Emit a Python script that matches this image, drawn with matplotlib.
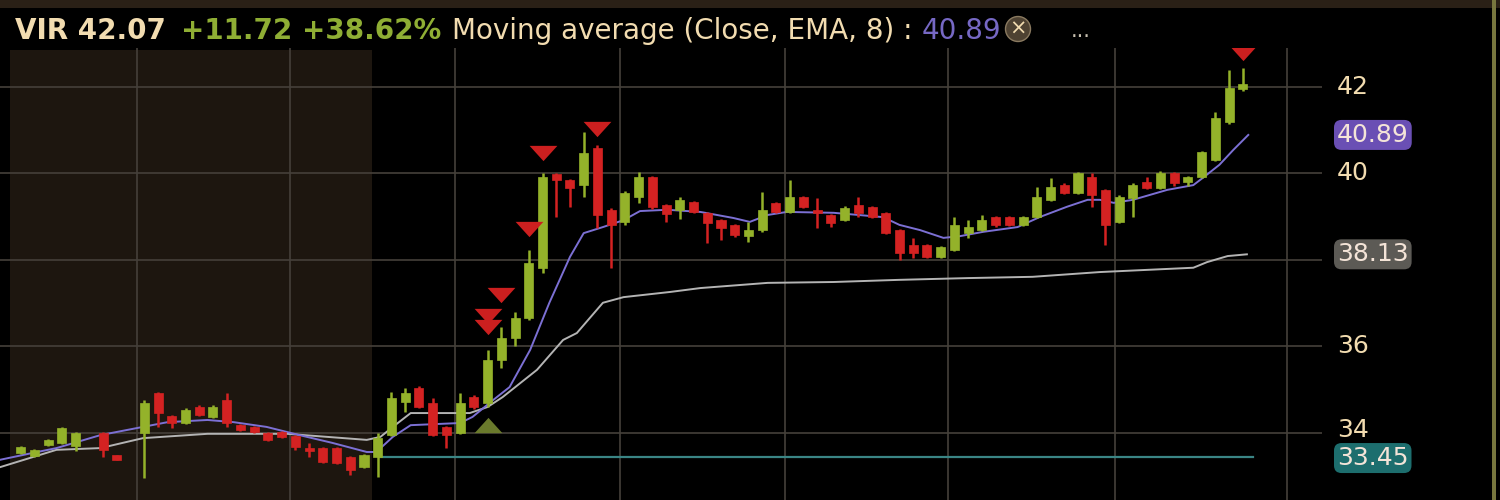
import matplotlib
matplotlib.use("Agg")
import matplotlib.pyplot as plt
import numpy as np
from matplotlib.transforms import blended_transform_factory
from matplotlib.patches import Rectangle

nan = np.nan

# one bar per slot, NaN where nothing was traded
opens = [nan, 33.54, 33.46, 33.72, 33.77, 33.70, nan, 34.00, 33.49, nan,
         34.00, 34.92, 34.39, 34.23, 34.60, 34.37, 34.76, 34.18, 34.14, 34.00,
         34.02, 33.93, 33.65, 33.65, 33.65, 33.45, 33.21, 33.45, 33.95, 34.72,
         35.04, 34.69, 34.14, 34.00, 34.83, 34.69, 35.69, 36.20, 36.66, 37.81,
         39.98, 39.85, 39.73, 40.59, 39.15, 38.88, 39.46, 39.92, 39.27, 39.16,
         39.34, 39.09, 38.93, 38.81, 38.55, 38.69, 39.32, 39.11, 39.46, 39.16,
         39.04, 38.93, 39.27, 39.23, 39.09, 38.69, 38.35, 38.35, 38.07, 38.23,
         38.62, 38.69, 38.99, 38.99, 38.81, 38.99, 39.39, 39.73, 39.55, 39.92,
         39.62, 38.88, 39.43, 39.80, 39.66, 40.01, 39.80, 39.92, 40.31, 41.19,
         41.95]
highs = [nan, 33.70, 33.62, 33.86, 34.14, 34.02, nan, 34.03, 33.50, nan,
         34.76, 34.95, 34.41, 34.58, 34.64, 34.64, 34.92, 34.20, 34.16, 34.02,
         34.04, 33.95, 33.77, 33.68, 33.68, 33.47, 33.52, 34.00, 34.95, 35.04,
         35.08, 34.80, 34.16, 34.92, 34.88, 35.92, 36.45, 36.80, 38.23, 40.01,
         40.02, 39.88, 40.96, 40.65, 39.20, 39.60, 40.03, 39.95, 39.30, 39.46,
         39.36, 39.11, 38.95, 38.83, 38.88, 39.57, 39.35, 39.85, 39.48, 39.43,
         39.06, 39.25, 39.46, 39.25, 39.11, 38.72, 38.51, 38.37, 38.32, 38.99,
         38.93, 39.04, 39.01, 39.01, 39.01, 39.69, 39.90, 39.78, 40.03, 40.01,
         39.65, 39.50, 39.78, 39.92, 40.05, 40.03, 39.94, 40.52, 41.42, 42.39,
         42.44]
lows = [nan, 33.52, 33.44, 33.70, 33.75, 33.58, nan, 33.45, 33.37, nan,
        32.96, 34.14, 34.12, 34.20, 34.40, 34.35, 34.14, 34.05, 34.00, 33.82,
        33.89, 33.61, 33.45, 33.30, 33.28, 33.03, 33.19, 32.98, 33.93, 34.49,
        34.58, 33.93, 33.65, 33.98, 34.55, 34.60, 35.50, 36.00, 36.60, 37.70,
        39.00, 39.23, 39.46, 38.74, 37.81, 38.80, 39.32, 39.18, 38.88, 38.95,
        39.08, 38.39, 38.46, 38.52, 38.42, 38.65, 39.08, 39.08, 39.20, 38.74,
        38.77, 38.90, 39.00, 38.97, 38.60, 38.00, 38.05, 38.05, 38.05, 38.20,
        38.51, 38.66, 38.76, 38.78, 38.78, 38.96, 39.37, 39.53, 39.53, 39.23,
        38.35, 38.85, 38.99, 39.64, 39.64, 39.70, 39.70, 39.90, 40.28, 41.15,
        41.90]
closes = [nan, 33.68, 33.60, 33.84, 34.12, 34.00, nan, 33.61, 33.38, nan,
          34.69, 34.46, 34.23, 34.53, 34.42, 34.60, 34.23, 34.07, 34.02, 33.84,
          33.91, 33.68, 33.58, 33.33, 33.31, 33.14, 33.49, 33.88, 34.81, 34.92,
          34.60, 33.95, 33.95, 34.69, 34.60, 35.69, 36.20, 36.66, 37.93, 39.92,
          39.85, 39.66, 40.47, 39.04, 38.80, 39.55, 39.92, 39.23, 39.06, 39.39,
          39.11, 38.86, 38.74, 38.58, 38.69, 39.16, 39.11, 39.46, 39.23, 39.09,
          38.86, 39.20, 39.09, 38.99, 38.62, 38.16, 38.16, 38.07, 38.30, 38.81,
          38.76, 38.93, 38.81, 38.81, 38.99, 39.46, 39.69, 39.55, 40.01, 39.50,
          38.81, 39.46, 39.73, 39.66, 40.01, 39.78, 39.92, 40.50, 41.28, 41.98,
          42.07]

# EMA(8) line at bar positions
ema_x = [-0.5, 1.9, 3.6, 6.8, 9.9, 11.7, 14.6, 16.5, 18.9, 21.3, 23.7, 26.2, 26.9,
         28.1, 29.4, 33.0, 33.9, 35.4, 36.6, 38.1, 39.5, 41.0, 42.0, 43.4, 44.9,
         46.1, 48.1, 50.5, 52.9, 54.1, 55.4, 56.8, 60.2, 63.8, 65.0, 66.5, 68.2,
         69.4, 71.1, 73.6, 75.2, 77.2, 78.7, 79.6, 80.6, 82.0, 84.5, 86.4, 87.1,
         88.3, 89.3, 90.4]
ema_y = [33.38, 33.54, 33.65, 33.95, 34.14, 34.25, 34.30, 34.25, 34.14, 33.95,
         33.77, 33.56, 33.56, 33.91, 34.18, 34.23, 34.37, 34.76, 35.06, 35.92,
         37.01, 38.07, 38.62, 38.76, 38.92, 39.13, 39.16, 39.11, 38.97, 38.88,
         39.04, 39.11, 39.09, 38.99, 38.81, 38.69, 38.51, 38.55, 38.65, 38.76,
         38.99, 39.23, 39.39, 39.39, 39.32, 39.39, 39.62, 39.73, 39.90, 40.20,
         40.54, 40.89]

# slower moving average (grey)
ma_x = [-0.5, 3.6, 6.8, 9.9, 14.6, 20.4, 26.2, 27.2, 28.1, 29.4, 33.7, 35.0, 36.1,
        38.6, 40.5, 41.5, 43.4, 44.9, 48.3, 50.5, 55.4, 60.2, 65.0, 69.9, 74.7,
        79.6, 86.4, 87.4, 88.9, 90.3]
ma_y = [33.21, 33.61, 33.65, 33.88, 33.98, 33.98, 33.84, 33.91, 34.14, 34.46,
        34.46, 34.60, 34.83, 35.46, 36.15, 36.31, 37.01, 37.14, 37.26, 37.35,
        37.47, 37.49, 37.54, 37.58, 37.61, 37.72, 37.82, 37.95, 38.09, 38.13]

open_level = 33.45
sell_x = [35, 35, 36, 38, 39, 43, 90]
sell_y = [36.71, 36.45, 37.19, 38.72, 40.47, 41.03, 42.79]
buy_x = [35]
buy_y = [34.18]

price_ticks = [42, 40, 38, 36, 34]
shown_ticks = [42, 40, 36, 34]   # 38 sits under the MA badge
time_lines = [9.47, 20.61, 32.63, 44.65, 56.66, 68.54, 80.7, 93.23]

GREEN = "#94b22a"
RED = "#d42222"
GRID = "#45403a"
CREAM = "#f2dcb0"

fig = plt.figure(figsize=(15, 5), dpi=100, facecolor="black")
ax = fig.add_axes([0, 0, 1322 / 1500, 452 / 500])
ax.set_facecolor("black")
ax.set_xlim(-0.51, 95.77)
ax.set_ylim(32.45, 42.90)
for s in ax.spines.values():
    s.set_visible(False)
ax.set_xticks([])
ax.set_yticks([])

# earlier session shading
ax.add_patch(Rectangle((0.22, 32.0), 26.36, 42.86 - 32.0, facecolor="#1d160f",
                       edgecolor="none", zorder=0))

for p in price_ticks:
    ax.axhline(p, color=GRID, lw=1.2, zorder=1)
for t in time_lines:
    ax.axvline(t, color=GRID, lw=1.2, zorder=1)

ax.plot([27.2, 90.75], [open_level, open_level], color="#3a8585", lw=1.6, zorder=2)
ax.plot(ma_x, ma_y, color="#b4b4b4", lw=1.4, zorder=3)
ax.plot(ema_x, ema_y, color="#7c70d4", lw=1.4, zorder=3)

o = np.array(opens)
h = np.array(highs)
l = np.array(lows)
c = np.array(closes)
idx = np.arange(len(o))
ok = ~np.isnan(o)
up = ok & (c >= o)
dn = ok & (c < o)
for mask, col in [(up, GREEN), (dn, RED)]:
    ax.vlines(idx[mask], l[mask], h[mask], color=col, lw=1.8, zorder=4)
    bottom = np.minimum(o[mask], c[mask])
    height = np.maximum(np.abs(c[mask] - o[mask]), 0.07)
    ax.bar(idx[mask], height, bottom=bottom, width=0.66, color=col,
           edgecolor=col, lw=0.5, zorder=5)

down_tri = [(-1.0, 0.55), (1.0, 0.55), (0.0, -0.55)]
up_tri = [(-1.0, -0.55), (1.0, -0.55), (0.0, 0.55)]
ax.plot(sell_x, sell_y, ls="none", marker=down_tri, markersize=20,
        color="#cc1f1f", markeredgewidth=0, zorder=6)
ax.plot(buy_x, buy_y, ls="none", marker=up_tri, markersize=20,
        color="#6a7a2c", markeredgewidth=0, zorder=6)

# right price scale
tr = blended_transform_factory(fig.transFigure, ax.transData)
for p in shown_ticks:
    ypos = p + 0.06 if p == 34 else p
    ax.text(1337 / 1500, ypos, str(p), transform=tr, color=CREAM, fontsize=18,
            va="center", ha="left", clip_on=False, zorder=7)
badges = [(ema_y[-1], "#6a4fb4"), (ma_y[-1], "#5c5a55"), (open_level, "#1d6e6e")]
badge_pos = [40.89, 38.13, 33.42]
for (val, col), ypos in zip(badges, badge_pos):
    ax.text(1337 / 1500, ypos, f"{val:.2f}", transform=tr, color="#f4e4d8",
            fontsize=18, va="center", ha="left", clip_on=False, zorder=8,
            bbox=dict(boxstyle="round,pad=0.12,rounding_size=0.3", fc=col, ec="none"))

# header
fig.add_artist(Rectangle((0, 492 / 500), 1, 8 / 500, transform=fig.transFigure,
                         facecolor="#2a2016", edgecolor="none"))
fig.add_artist(Rectangle((1492 / 1500, 0), 4 / 1500, 1, transform=fig.transFigure,
                         facecolor="#77763e", edgecolor="none"))
hy = 1 - 31 / 500
fig.text(15 / 1500, hy, "VIR 42.07", color=CREAM, fontsize=20, fontweight="bold", va="center")
fig.text(181 / 1500, hy, "+11.72", color="#8fae34", fontsize=20, fontweight="bold", va="center")
fig.text(302 / 1500, hy, "+38.62%", color="#8fae34", fontsize=20, fontweight="bold", va="center")
fig.text(452 / 1500, hy, "Moving average (Close, EMA, 8) :", color=CREAM, fontsize=20, va="center")
fig.text(922 / 1500, hy, "40.89", color="#7668c4", fontsize=20, va="center")
fig.text(1018 / 1500, hy + 0.004, "×", color=CREAM, fontsize=15, va="center", ha="center",
         bbox=dict(boxstyle="circle,pad=0.12", fc="#4e4232", ec="#8a7a60", lw=1))
fig.text(1081 / 1500, hy, "...", color="#c8c0b0", fontsize=15, va="center", ha="center")

fig.savefig("out.png", dpi=100, facecolor="black")
